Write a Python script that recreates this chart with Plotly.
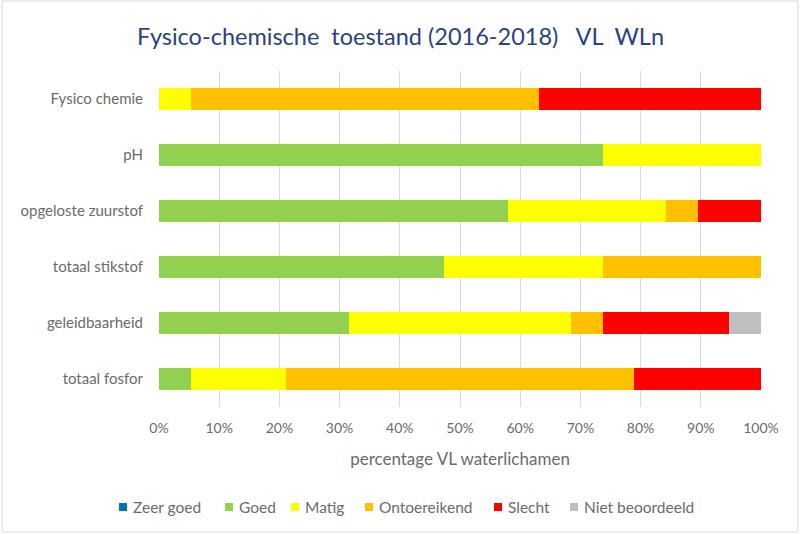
import plotly.graph_objects as go

# Parameters (top to bottom as displayed)
categories = [
    "Fysico chemie",
    "pH",
    "opgeloste zuurstof",
    "totaal stikstof",
    "geleidbaarheid",
    "totaal fosfor",
]

# Number of VL water bodies per status class, per parameter
zeer_goed = [0, 0, 0, 0, 0, 0]
goed = [0, 14, 11, 9, 6, 1]
matig = [1, 5, 5, 5, 7, 3]
ontoereikend = [11, 0, 1, 5, 1, 11]
slecht = [7, 0, 2, 0, 4, 4]
niet_beoordeeld = [0, 0, 0, 0, 1, 0]

series_names = ["Zeer goed", "Goed", "Matig", "Ontoereikend", "Slecht", "Niet beoordeeld"]
series_values = [zeer_goed, goed, matig, ontoereikend, slecht, niet_beoordeeld]
series_colors = ["#0070C0", "#92D050", "#FFFF00", "#FFC000", "#FF0000", "#BFBFBF"]

x_ticks = [0, 10, 20, 30, 40, 50, 60, 70, 80, 90, 100]
x_tick_labels = [f"{v}%" for v in x_ticks]

FONT = "Lato, 'Open Sans', sans-serif"
TEXT_GREY = "#6b6b6b"

fig = go.Figure()
for name, values, color in zip(series_names, series_values, series_colors):
    fig.add_trace(
        go.Bar(
            y=categories,
            x=values,
            name=name,
            orientation="h",
            marker=dict(color=color, line=dict(width=0)),
            showlegend=False,
        )
    )

# Plot-area extents in pixels
W, H = 801, 534
L, R, T, B = 159, 40, 71, 127
pw, ph = W - L - R, H - T - B


def px_to_paper_x(px):
    return (px - L) / pw


def px_to_paper_y(py):
    return (H - B - py) / ph


fig.update_layout(
    width=W,
    height=H,
    margin=dict(l=L, r=R, t=T, b=B),
    paper_bgcolor="white",
    plot_bgcolor="white",
    barmode="stack",
    barnorm="percent",
    bargap=0.6,
    font=dict(family=FONT, size=14, color=TEXT_GREY),
    title=dict(
        text="Fysico-chemische  toestand (2016-2018)   VL  WLn",
        font=dict(family=FONT, size=23.5, color="#2B4280"),
        x=0.5,
        xref="container",
        xanchor="center",
        y=1 - 37 / H,
        yref="container",
        yanchor="middle",
    ),
    xaxis=dict(
        range=[0, 100],
        tickvals=x_ticks,
        ticktext=x_tick_labels,
        showgrid=True,
        gridcolor="#D9D9D9",
        gridwidth=1,
        zeroline=False,
        showline=False,
        ticks="",
        ticklabelstandoff=11,
        tickfont=dict(size=14, color=TEXT_GREY),
        title=dict(
            text="percentage VL waterlichamen",
            font=dict(size=17, color=TEXT_GREY),
            standoff=18,
        ),
        fixedrange=True,
    ),
    yaxis=dict(
        categoryorder="array",
        categoryarray=categories,
        autorange="reversed",
        showgrid=False,
        showline=False,
        zeroline=False,
        ticks="",
        ticklabelstandoff=15,
        tickfont=dict(size=15, color=TEXT_GREY),
        fixedrange=True,
    ),
    showlegend=False,
)

# Legend row below the axis title: small colour square followed by its label
legend_y = 507
legend_square = 8
legend_lefts = [119, 225, 291, 365, 494, 570]
for name, color, left in zip(series_names, series_colors, legend_lefts):
    fig.add_shape(
        type="rect",
        xref="paper",
        yref="paper",
        x0=px_to_paper_x(left),
        x1=px_to_paper_x(left + legend_square),
        y0=px_to_paper_y(legend_y + legend_square / 2),
        y1=px_to_paper_y(legend_y - legend_square / 2),
        line=dict(width=0),
        fillcolor=color,
    )
    fig.add_annotation(
        text=name,
        xref="paper",
        yref="paper",
        x=px_to_paper_x(left + legend_square + 4),
        y=px_to_paper_y(legend_y),
        xanchor="left",
        yanchor="middle",
        showarrow=False,
        font=dict(size=15.5, color=TEXT_GREY),
    )

# Light frame around the whole chart
fig.add_shape(
    type="rect",
    xref="paper",
    yref="paper",
    x0=px_to_paper_x(2),
    x1=px_to_paper_x(798),
    y0=px_to_paper_y(532),
    y1=px_to_paper_y(1),
    line=dict(color="#D9D9D9", width=1),
    fillcolor="rgba(0,0,0,0)",
    layer="below",
)

fig.write_html("out.html", config={"displayModeBar": False})
